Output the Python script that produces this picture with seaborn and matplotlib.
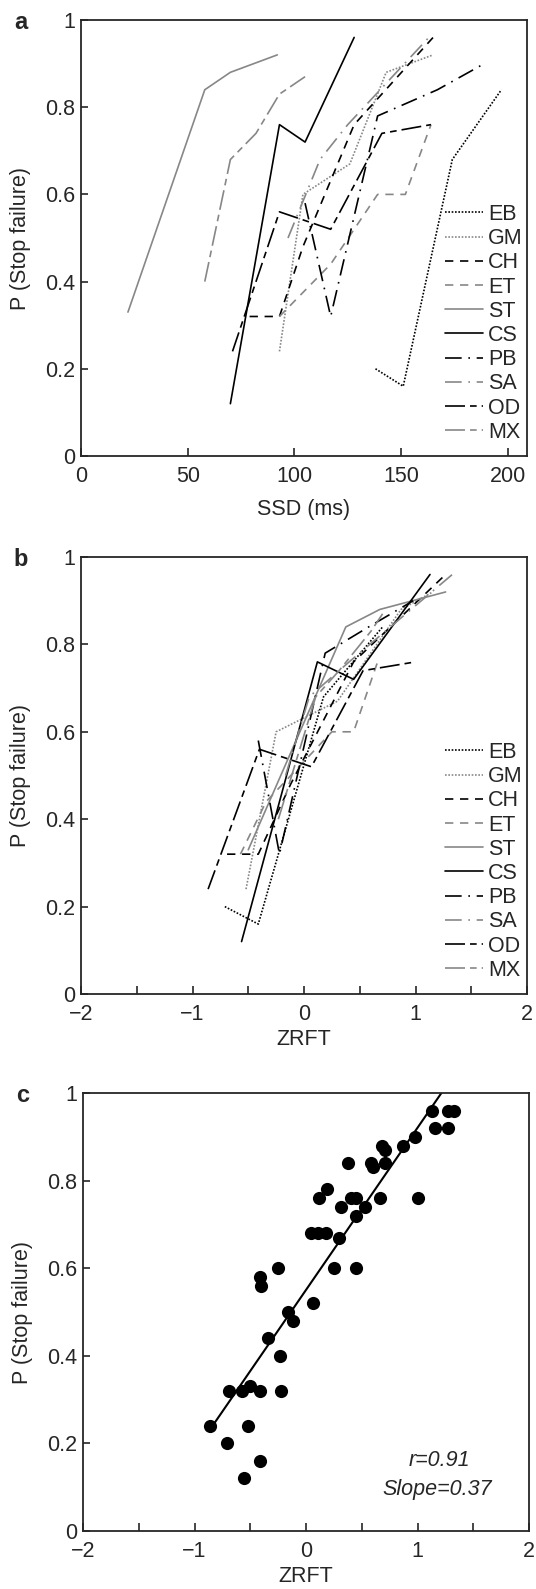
import numpy as np
import pandas as pd
import matplotlib
matplotlib.use("Agg")
import matplotlib.pyplot as plt
import seaborn as sns
from matplotlib.ticker import FixedLocator

sns.set_style("ticks")
plt.rcParams['font.family'] = ['Liberation Sans', 'DejaVu Sans']

subjects = ['EB', 'GM', 'CH', 'ET', 'ST', 'CS', 'PB', 'SA', 'OD', 'MX']

# SSD (ms), ZRFT and P(stop failure) for each subject
ssd = {
    'EB': [138, 151, 174, 197],
    'GM': [93, 104, 126, 143, 165],
    'CH': [79, 93, 104, 128, 165],
    'ET': [93, 117, 139, 152, 164],
    'ST': [22, 58, 70, 92],
    'CS': [70, 93, 105, 128],
    'PB': [105, 117, 139, 167, 189],
    'SA': [97, 112, 125, 163],
    'OD': [71, 93, 117, 141, 164],
    'MX': [58, 70, 82, 93, 105],
}
zrft = {
    'EB': [-0.71, -0.41, 0.175, 0.705],
    'GM': [-0.52, -0.25, 0.30, 0.87, 1.155],
    'CH': [-0.69, -0.41, -0.12, 0.445, 1.27],
    'ET': [-0.57, -0.34, 0.25, 0.445, 0.66],
    'ST': [-0.50, 0.375, 0.68, 1.27],
    'CS': [-0.56, 0.12, 0.445, 1.13],
    'PB': [-0.41, -0.22, 0.19, 0.58, 0.98],
    'SA': [-0.165, 0.047, 0.405, 1.33],
    'OD': [-0.86, -0.40, 0.067, 0.53, 1.0],
    'MX': [-0.23, 0.105, 0.315, 0.60, 0.705],
}
pfail = {
    'EB': [0.20, 0.16, 0.68, 0.84],
    'GM': [0.24, 0.60, 0.67, 0.88, 0.92],
    'CH': [0.32, 0.32, 0.48, 0.76, 0.96],
    'ET': [0.32, 0.44, 0.60, 0.60, 0.76],
    'ST': [0.33, 0.84, 0.88, 0.92],
    'CS': [0.12, 0.76, 0.72, 0.96],
    'PB': [0.58, 0.32, 0.78, 0.84, 0.90],
    'SA': [0.50, 0.68, 0.76, 0.96],
    'OD': [0.24, 0.56, 0.52, 0.74, 0.76],
    'MX': [0.40, 0.68, 0.74, 0.83, 0.87],
}

rows = []
for s in subjects:
    for i in range(len(ssd[s])):
        rows.append({'subj': s, 'ssd': ssd[s][i], 'z': zrft[s][i], 'p': pfail[s][i]})
df = pd.DataFrame(rows)

blk = '#000000'
gry = '#878787'
palette = {'EB': blk, 'GM': gry, 'CH': blk, 'ET': gry, 'ST': gry,
           'CS': blk, 'PB': blk, 'SA': gry, 'OD': blk, 'MX': gry}
dashes = {'EB': (1, 1), 'GM': (1, 1), 'CH': (5, 4), 'ET': (5, 4), 'ST': '',
          'CS': '', 'PB': (10, 4, 1, 4), 'SA': (10, 4, 1, 4), 'OD': (12, 3, 4, 3), 'MX': (12, 3, 4, 3)}

fig = plt.figure(figsize=(5.36, 15.89), dpi=100)
ax_a = fig.add_axes([81/536, (1589-456)/1589, 446/536, 436/1589])
ax_b = fig.add_axes([81/536, (1589-994)/1589, 446/536, 437/1589])
ax_c = fig.add_axes([83/536, (1589-1531)/1589, 446/536, 438/1589])

fs = 15.5

def style_axis(ax):
    for sp in ax.spines.values():
        sp.set_linewidth(1.3)
    ax.tick_params(direction='in', length=6, width=1.2, labelsize=fs)
    ax.tick_params(axis='x', pad=7)
    ax.tick_params(axis='y', pad=4, length=5)
    ax.set_ylim(0, 1)
    ax.yaxis.set_major_locator(FixedLocator([0, 0.2, 0.4, 0.6, 0.8, 1]))
    ax.set_yticklabels(['0', '0.2', '0.4', '0.6', '0.8', '1'])
    ax.set_ylabel('P (Stop failure)', fontsize=fs, labelpad=10)

# panel a and b: one line per subject
for ax, xcol in ((ax_a, 'ssd'), (ax_b, 'z')):
    sns.lineplot(data=df, x=xcol, y='p', hue='subj', style='subj', hue_order=subjects,
                 style_order=subjects, palette=palette, dashes=dashes, sort=False,
                 estimator=None, units='subj', lw=1.2, ax=ax)
    sns.move_legend(ax, 'lower left', bbox_to_anchor=(0.816, 0.03), frameon=False, title=None,
                    fontsize=fs, handlelength=1.75, handletextpad=0.25, labelspacing=0.15,
                    borderaxespad=0, borderpad=0)

style_axis(ax_a)
ax_a.set_xlim(0, 209)
ax_a.xaxis.set_major_locator(FixedLocator([0, 50, 100, 150, 200]))
ax_a.set_xlabel('SSD (ms)', fontsize=fs, labelpad=9)

# panel c
sns.regplot(data=df, x='z', y='p', ci=None, ax=ax_c, color='black',
            scatter_kws={'s': 90, 'alpha': 1, 'linewidths': 0},
            line_kws={'lw': 1.5})

for ax in (ax_b, ax_c):
    style_axis(ax)
    ax.set_xlim(-2, 2)
    ax.xaxis.set_major_locator(FixedLocator([-2, -1, 0, 1, 2]))
    ax.xaxis.set_minor_locator(FixedLocator([-1.5, -0.5, 0.5, 1.5]))
    ax.tick_params(axis='x', which='minor', direction='in', length=6, width=1.2)
    ax.set_xticklabels(['\u22122', '\u22121', '0', '1', '2'])
ax_b.set_xlabel('ZRFT', fontsize=fs, labelpad=3)
ax_c.set_xlabel('ZRFT', fontsize=fs, labelpad=3)

ax_c.text(0.80, 0.162, 'r=0.91', transform=ax_c.transAxes, ha='center', va='center',
          fontsize=fs, style='italic')
ax_c.text(0.795, 0.094, 'Slope=0.37', transform=ax_c.transAxes, ha='center', va='center',
          fontsize=fs, style='italic')

for ax, lab in ((ax_a, 'a'), (ax_b, 'b'), (ax_c, 'c')):
    ax.text(-0.135, 0.995, lab, transform=ax.transAxes, fontsize=17, fontweight='bold',
            ha='center', va='center')

fig.savefig('out.png', dpi=100)
